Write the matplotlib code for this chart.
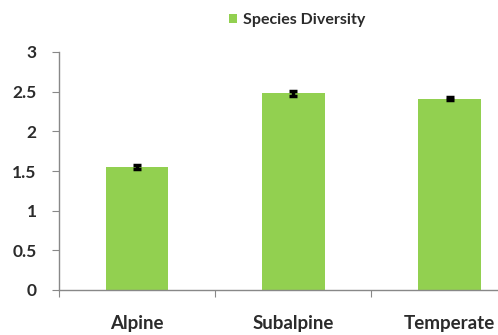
import matplotlib.pyplot as plt
import numpy as np

# data
zones = ['Alpine', 'Subalpine', 'Temperate']
diversity = [1.55, 2.48, 2.41]
err = [0.03, 0.03, 0.02]

plt.rcParams['font.family'] = ['Lato', 'DejaVu Sans']

fig = plt.figure(figsize=(4.98, 3.35), dpi=100)
ax = fig.add_axes([59 / 498, 45 / 335, 1 - 59 / 498, 238 / 335])

x = np.arange(len(zones))
ax.bar(x, diversity, width=0.4, color='#92D050', label='Species Diversity',
       yerr=err, error_kw=dict(ecolor='black', elinewidth=2.5, capsize=3, capthick=2.5))

ax.set_yticks([0, 0.5, 1, 1.5, 2, 2.5, 3])
ax.set_yticklabels(['0', '0.5', '1', '1.5', '2', '2.5', '3'])

# category labels in the middle, tick marks at the boundaries
ax.set_xticks([-0.5, 0.5, 1.5, 2.5])
ax.set_xticklabels([])
ax.set_xticks(x, minor=True)
ax.set_xticklabels(zones, minor=True)
ax.tick_params(axis='x', which='minor', length=0, pad=18)
ax.tick_params(axis='x', which='major', length=5, color='#888888', direction='out')
ax.tick_params(axis='y', length=5, color='#888888', pad=11)

# the picture is cut off on the right, so the last category is clipped
ax.set_xlim(-0.5, 2.31)
ax.set_ylim(0, 3)

for lab in ax.get_xticklabels(minor=True):
    lab.set_fontsize(13.5)
for lab in ax.get_yticklabels():
    lab.set_fontsize(12.5)
for lab in ax.get_xticklabels(minor=True) + ax.get_yticklabels():
    lab.set_fontweight('bold')
    lab.set_color('#2b2b2b')

for s in ['top', 'right']:
    ax.spines[s].set_visible(False)
for s in ['left', 'bottom']:
    ax.spines[s].set_color('#888888')
    ax.spines[s].set_linewidth(1)

leg = fig.legend(loc='center', bbox_to_anchor=(297 / 498, 1 - 20 / 335), frameon=False,
                 handlelength=0.55, handleheight=0.55, handletextpad=0.35,
                 prop=dict(size=11.5, weight='bold'))
for t in leg.get_texts():
    t.set_color('#2b2b2b')

fig.savefig('out.png', dpi=100)
